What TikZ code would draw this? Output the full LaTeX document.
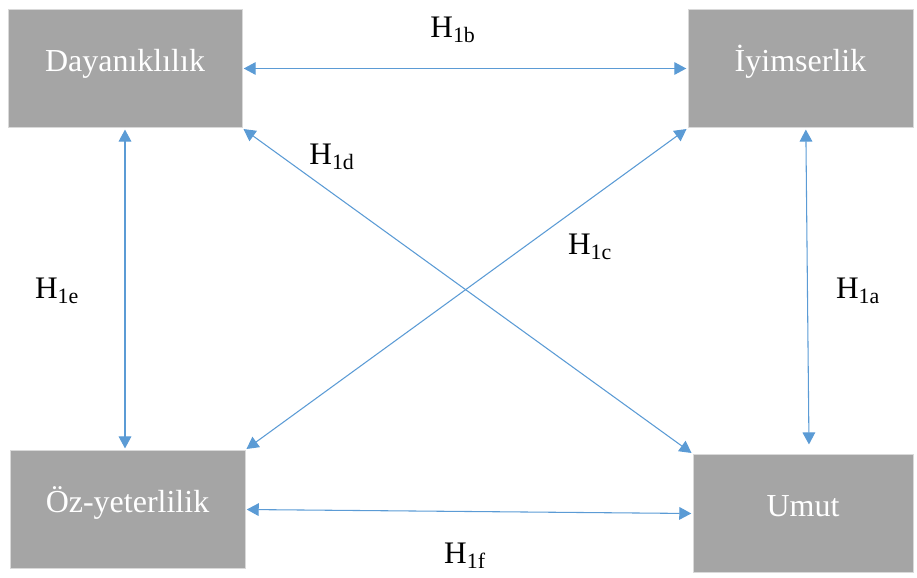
\documentclass[tikz,border=0pt]{standalone}
\usepackage{fontspec}
\setmainfont{Liberation Serif}
\usetikzlibrary{arrows.meta}
\definecolor{cajagris}{HTML}{A5A5A5}
\definecolor{flechaazul}{HTML}{5B9BD5}
\begin{document}
\begin{tikzpicture}[x=0.75pt,y=-0.75pt,font=\fontsize{24}{28}\selectfont,
  caja/.style={fill=cajagris,draw=gray!30,line width=0.6pt,text=white,minimum height=89pt,inner sep=0pt,text height=16pt,text depth=11.5pt},
  flecha/.style={draw=flechaazul,line width=0.8pt,{Triangle[length=9pt,width=9.5pt]}-{Triangle[length=9pt,width=9.5pt]},shorten <=1pt,shorten >=1pt},
  etiq/.style={font=\fontsize{23.5}{27}\selectfont}]
  \useasboundingbox (0,0) rectangle (917,578);
  % cajas
  \node[caja,minimum width=175.5pt] (day) at (125,68.5) {Dayanıklılık};
  \node[caja,minimum width=168.75pt] (iyi) at (800.5,68.5) {İyimserlik};
  \node[caja,minimum width=176.25pt] (oz) at (127.5,509.5) {Öz-yeterlilik};
  \node[caja,minimum width=165pt] (umut) at (803,513.5) {Umut};
  % flechas
  \draw[flecha] (day.east) -- (iyi.west);
  \draw[flecha] (day.south) -- (day.south |- oz.north);
  \draw[flecha] ([xshift=4pt]iyi.south) -- ([xshift=4.5pt,yshift=6pt]umut.north);
  \draw[flecha] (day.south east) -- (umut.north west);
  \draw[flecha] (iyi.south west) -- (oz.north east);
  \draw[flecha] (oz.east) -- (umut.west);
  % hipotesis
  \node[etiq] (h1b) at (453,30) {H\textsubscript{1b}};
  \node[etiq] (h1d) at (332,157) {H\textsubscript{1d}};
  \node[etiq] (h1c) at (590,247) {H\textsubscript{1c}};
  \node[etiq] (h1e) at (57,291) {H\textsubscript{1e}};
  \node[etiq] (h1a) at (858,291) {H\textsubscript{1a}};
  \node[etiq] (h1f) at (465,556) {H\textsubscript{1f}};
\end{tikzpicture}
\end{document}
